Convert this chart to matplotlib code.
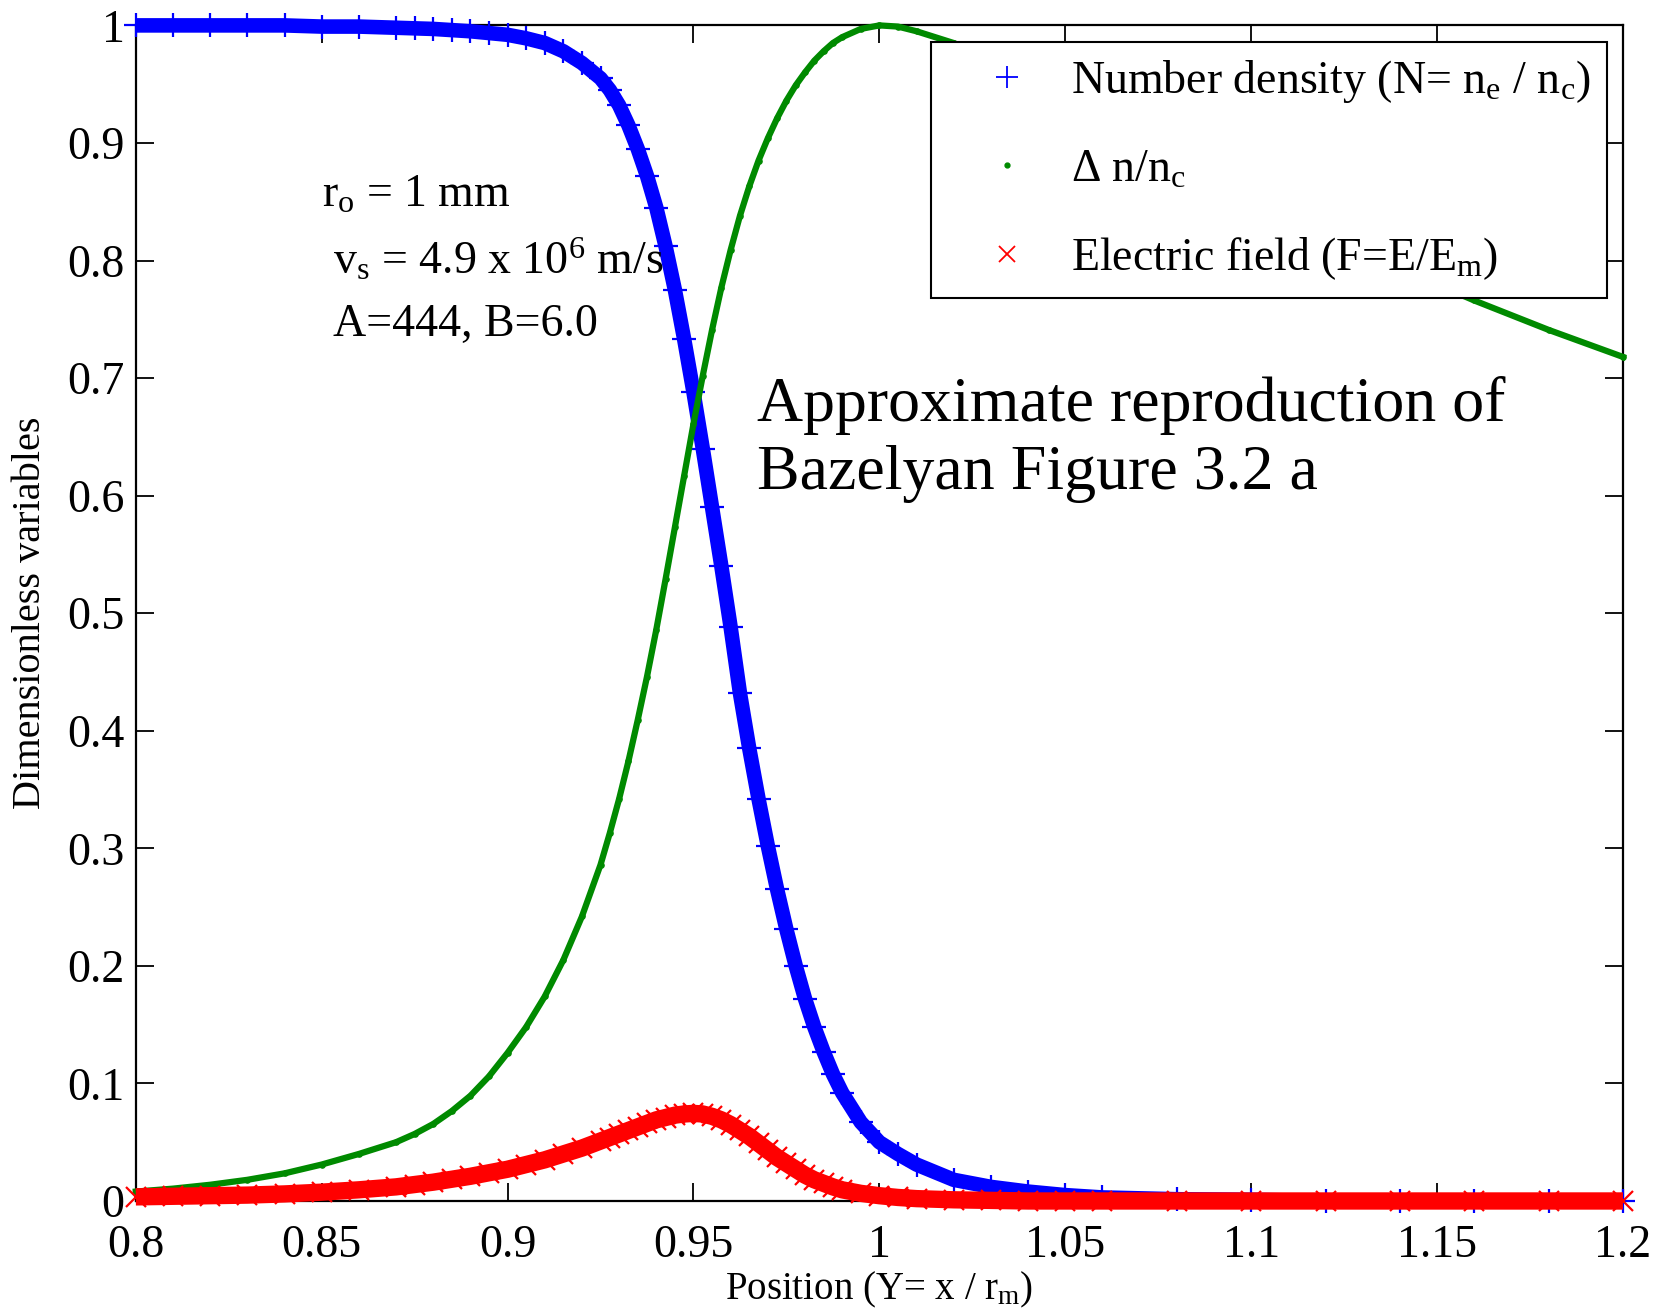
import numpy as np
import matplotlib
matplotlib.use("Agg")
import matplotlib.pyplot as plt
from matplotlib.lines import Line2D
from matplotlib.ticker import MultipleLocator, FuncFormatter

# ------------------------------------------------------------------ #
# values
# ------------------------------------------------------------------ #
POS = [0.800, 0.810, 0.820, 0.830, 0.840, 0.850, 0.860, 0.870, 0.875, 0.880,
       0.885, 0.890, 0.895, 0.900, 0.905, 0.910, 0.915, 0.920, 0.925, 0.9275,
       0.930, 0.9325, 0.935, 0.9375, 0.940, 0.9425, 0.945, 0.9475, 0.950, 0.9525,
       0.955, 0.9575, 0.960, 0.9625, 0.965, 0.9675, 0.970, 0.9725, 0.975, 0.9775,
       0.980, 0.9825, 0.985, 0.9875, 0.990, 0.995, 1.000, 1.005, 1.010, 1.020,
       1.030, 1.040, 1.050, 1.060, 1.080, 1.100, 1.120, 1.140, 1.160, 1.180,
       1.200]

# number density N = ne / nc
DENSITY = [1.000, 1.000, 1.000, 1.000, 1.000, 0.999, 0.999, 0.998, 0.9975, 0.997,
           0.996, 0.995, 0.9935, 0.992, 0.989, 0.985, 0.978, 0.968, 0.955, 0.945,
           0.932, 0.915, 0.895, 0.872, 0.845, 0.812, 0.775, 0.733, 0.688, 0.640,
           0.590, 0.540, 0.488, 0.432, 0.385, 0.342, 0.302, 0.265, 0.231, 0.200,
           0.172, 0.148, 0.127, 0.108, 0.092, 0.067, 0.050, 0.040, 0.031, 0.018,
           0.012, 0.008, 0.005, 0.003, 0.0015, 0.001, 0.0, 0.0, 0.0, 0.0,
           0.0]

# delta n / nc
DELTA_N = [0.008, 0.0105, 0.0138, 0.018, 0.0235, 0.031, 0.040, 0.050, 0.057, 0.0655,
           0.0765, 0.0895, 0.106, 0.126, 0.148, 0.174, 0.205, 0.242, 0.286, 0.313,
           0.342, 0.374, 0.409, 0.446, 0.486, 0.529, 0.573, 0.617, 0.661, 0.702,
           0.741, 0.777, 0.809, 0.838, 0.863, 0.885, 0.904, 0.921, 0.936, 0.949,
           0.960, 0.970, 0.978, 0.985, 0.990, 0.997, 1.000, 0.999, 0.995, 0.985,
           0.970, 0.954, 0.937, 0.920, 0.886, 0.853, 0.822, 0.793, 0.766, 0.741,
           0.718]

# electric field F = E / Em
FIELD = [0.0035, 0.004, 0.0045, 0.005, 0.006, 0.0075, 0.0095, 0.012, 0.014, 0.016,
         0.0185, 0.021, 0.024, 0.027, 0.031, 0.035, 0.040, 0.045, 0.051, 0.054,
         0.057, 0.060, 0.063, 0.066, 0.069, 0.071, 0.073, 0.074, 0.0745, 0.074,
         0.072, 0.069, 0.065, 0.060, 0.055, 0.049, 0.043, 0.037, 0.032, 0.027,
         0.022, 0.018, 0.015, 0.012, 0.0095, 0.0065, 0.0045, 0.003, 0.002, 0.001,
         0.0005, 0.0, 0.0, 0.0, 0.0, 0.0, 0.0, 0.0, 0.0, 0.0,
         0.0]

LABELS = [r"Number density (N= n$_\mathrm{e}$ / n$_\mathrm{c}$)",
          r"$\Delta$ n/n$_\mathrm{c}$",
          r"Electric field (F=E/E$_\mathrm{m}$)"]

BLUE, GREEN, RED = "#0000ff", "#008a00", "#ff0000"

plt.rcParams["font.family"] = ["Liberation Serif", "DejaVu Serif"]
plt.rcParams["mathtext.fontset"] = "custom"
plt.rcParams["mathtext.rm"] = "Liberation Serif"
plt.rcParams["mathtext.it"] = "Liberation Serif:italic"

fig = plt.figure(figsize=(16.62, 13.16), dpi=100)
ax = fig.add_axes([0.0817, 0.0874, 0.8948, 0.8933])

# blue: + markers, dense enough in the original to form a band
ax.plot(POS, DENSITY, color=BLUE, lw=10.5, solid_capstyle="butt", clip_on=False, zorder=3)
ax.plot(POS, DENSITY, ls="none", marker="+", ms=17, mew=1.6, color=BLUE, clip_on=False, zorder=3)
# green: dots
ax.plot(POS, DELTA_N, color=GREEN, lw=4.5, clip_on=False, zorder=4)
ax.plot(POS, DELTA_N, ls="none", marker=".", ms=7.5, color=GREEN, clip_on=False, zorder=4)
# red: x markers
ax.plot(POS, FIELD, color=RED, lw=12.5, solid_capstyle="butt", clip_on=False, zorder=5)
ax.plot(POS, FIELD, ls="none", marker="x", ms=14, mew=1.6, color=RED, clip_on=False, zorder=5)

ax.set_xlim(0.8, 1.2)
ax.set_ylim(0, 1)
ax.xaxis.set_major_locator(MultipleLocator(0.05))
ax.yaxis.set_major_locator(MultipleLocator(0.1))
fmt = FuncFormatter(lambda v, p: f"{round(v, 4):g}")
ax.xaxis.set_major_formatter(fmt)
ax.yaxis.set_major_formatter(fmt)
ax.tick_params(direction="in", length=13, width=1.3, top=True, right=True,
               labelsize=33)
ax.tick_params(axis="x", pad=17)
ax.tick_params(axis="y", pad=8)
for sp in ax.spines.values():
    sp.set_linewidth(1.6)

ax.set_xlabel(r"Position (Y= x / r$_\mathrm{m}$)", fontsize=28, labelpad=2)
ax.set_ylabel("Dimensionless variables", fontsize=29, labelpad=13)

# parameter block
ax.text(0.850, 0.855, r"r$_\mathrm{o}$ = 1 mm", fontsize=33, va="center")
ax.text(0.853, 0.800, r"v$_\mathrm{s}$ = 4.9 x 10$^\mathrm{6}$ m/s", fontsize=33, va="center")
ax.text(0.853, 0.745, "A=444, B=6.0", fontsize=33, va="center")

ax.text(0.967, 0.677, "Approximate reproduction of", fontsize=46, va="center")
ax.text(0.967, 0.618, "Bazelyan Figure 3.2 a", fontsize=46, va="center")

handles = [Line2D([], [], ls="none", marker="+", ms=16, mew=1.3, color=BLUE),
           Line2D([], [], ls="none", marker=".", ms=7, color=GREEN),
           Line2D([], [], ls="none", marker="x", ms=11, mew=1.3, color=RED)]
leg = ax.legend(handles, LABELS, loc="upper right", bbox_to_anchor=(0.989, 0.9855),
                fontsize=33, frameon=True, fancybox=False, edgecolor="black",
                framealpha=1, borderpad=0.35, handlelength=2.6, handletextpad=0.1,
                labelspacing=0.95, borderaxespad=0)
leg.get_frame().set_linewidth(1.5)
leg.set_zorder(10)

fig.savefig("out.png", dpi=100)
